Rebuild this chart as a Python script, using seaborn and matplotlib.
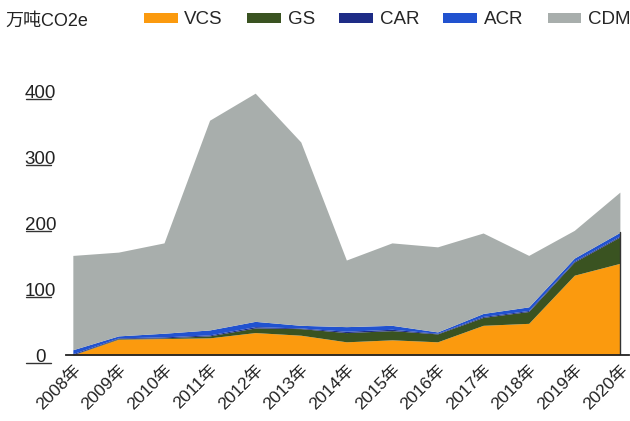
import numpy as np
import matplotlib
matplotlib.use("Agg")
import matplotlib.pyplot as plt
import seaborn as sns
from matplotlib.patches import Patch

years = ["2008年", "2009年", "2010年", "2011年", "2012年", "2013年", "2014年",
         "2015年", "2016年", "2017年", "2018年", "2019年", "2020年"]
vcs = [0, 24, 25, 26, 34, 30, 20, 23, 20, 45, 48, 121, 139]
gs = [0.5, 1, 1, 3, 7, 10, 14, 14, 12, 12, 18, 20, 40]
car = [1.5, 1, 1.5, 1.5, 2, 1, 2, 2, 1, 1.5, 1.5, 1.5, 1.5]
acr = [6, 3, 5.5, 7.5, 8, 4, 7, 6, 2, 4.5, 5.5, 4.5, 5.5]
totals = [151, 156, 170, 356, 397, 323, 144, 170, 164, 185, 151, 189, 247]
series_names = ["VCS", "GS", "CAR", "ACR", "CDM"]
y_ticks = [0, 100, 200, 300, 400]

sns.set_theme(style="white")
plt.rcParams["font.family"] = ["Liberation Sans", "Noto Sans CJK SC", "DejaVu Sans"]

cdm = [t - (a + b + c + d) for t, a, b, c, d in zip(totals, vcs, gs, car, acr)]
colors = ["#FB9A0E", "#3A5321", "#1E2C86", "#2152CF", "#A8AEAC"]

fig = plt.figure(figsize=(6.3, 4.21), dpi=100)
ax = fig.add_axes([66 / 630, 1 - 355 / 421, 563 / 630, 277 / 421])

x = np.arange(len(years))
ax.stackplot(x, vcs, gs, car, acr, cdm, colors=colors, linewidth=0)
edge_top = vcs[-1] + gs[-1] + car[-1] + acr[-1]
ax.plot([x[-1], x[-1]], [0, edge_top], color="#333333", lw=1)

ax.set_xlim(-0.15, len(years) - 0.8)
ax.set_ylim(0, 420)
for s in ["top", "right", "left"]:
    ax.spines[s].set_visible(False)
ax.spines["bottom"].set_color("#222222")
ax.spines["bottom"].set_linewidth(1.3)

ax.set_yticks(y_ticks)
ax.set_yticklabels([str(v) for v in y_ticks], fontsize=13.5, color="#222222", ha="center")
ax.tick_params(axis="y", length=0, pad=18.5)
for v in y_ticks:
    ax.plot([-0.071, -0.027], [v - 12, v - 12], transform=ax.get_yaxis_transform(),
            color="#333333", lw=1, clip_on=False)

ax.set_xticks(x)
ax.set_xticklabels(years, rotation=45, ha="right", va="top", rotation_mode="anchor",
                   fontsize=12.5, color="#222222")
ax.tick_params(axis="x", length=0, pad=5)

handles = [Patch(facecolor=c, edgecolor="none") for c in colors]
fig.legend(handles, series_names, loc="center left", bbox_to_anchor=(144 / 630, 1 - 20 / 421),
           ncol=5, frameon=False, fontsize=13.5, handlelength=1.8, handleheight=0.4,
           columnspacing=1.3, handletextpad=0.35, borderpad=0, borderaxespad=0)
fig.text(5 / 630, 1 - 21 / 421, "万吨CO2e", fontsize=13, color="#222222", va="center")

fig.savefig("out.png", dpi=100)
